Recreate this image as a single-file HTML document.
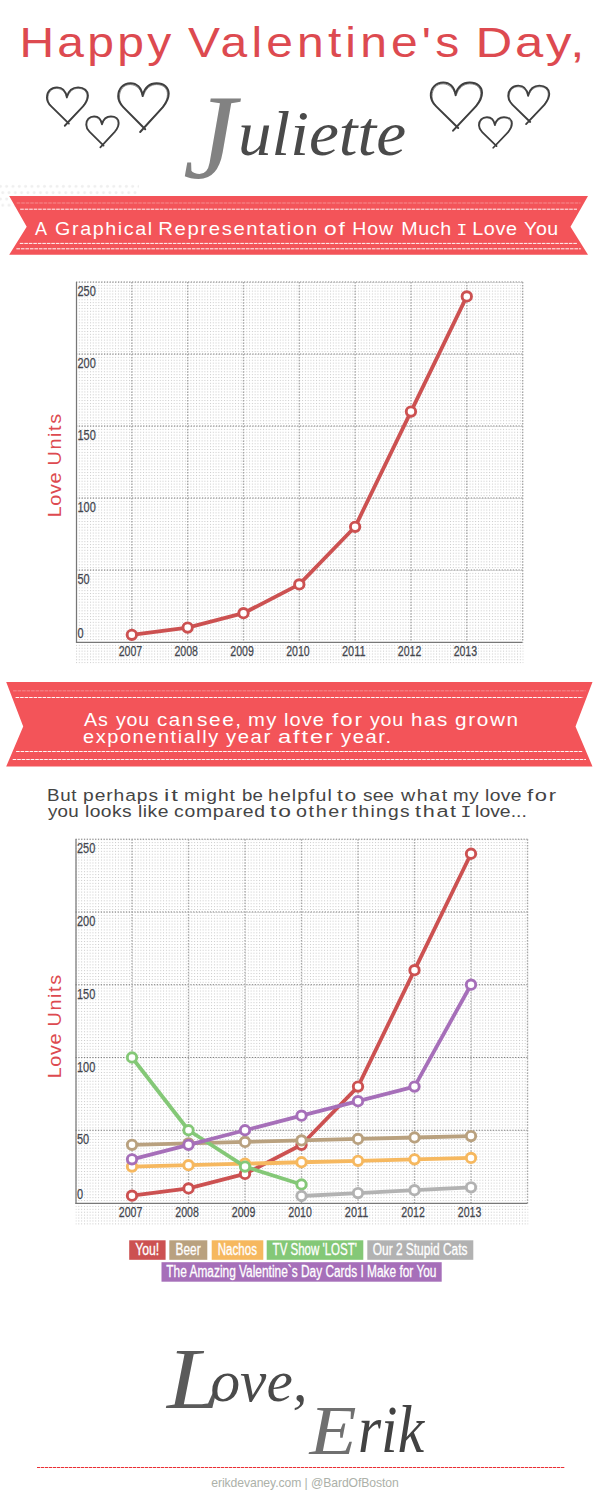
<!DOCTYPE html>
<html lang="en"><head><meta charset="utf-8"><title>Happy Valentine's Day, Juliette</title>
<style>html,body{margin:0;padding:0;background:#fff}svg{display:block}</style></head>
<body>
<svg width="600" height="1506" viewBox="0 0 600 1506">
<rect width="600" height="1506" fill="#fff"/>
<text transform="scale(1.1,1)" y="56.7" font-family="'Liberation Sans', sans-serif" font-size="42" fill="#dd4a50"><tspan x="17.64" letter-spacing="2.90" textLength="141.09" lengthAdjust="spacingAndGlyphs">Happy</tspan> <tspan x="170.91" letter-spacing="3.64" textLength="250.27" lengthAdjust="spacingAndGlyphs">Valentine's</tspan> <tspan x="432.27" letter-spacing="2.26" textLength="101.55" lengthAdjust="spacingAndGlyphs">Day,</tspan></text>
<g fill="none" stroke="#3f3f3f" stroke-linecap="round" stroke-linejoin="round"><path d="M66.83,97.47 C65.81,90.53 61.70,87.33 56.99,87.33 C51.04,87.33 46.93,91.60 46.93,97.65 C46.93,101.56 48.57,103.69 51.04,106.18 L68.89,123.61 M66.83,96.76 C68.68,90.18 73.20,87.33 78.12,87.33 C84.28,87.33 87.97,90.89 87.97,95.51 C87.97,100.13 85.92,102.98 83.25,106.18 L64.78,125.74" stroke-width="1.86"/><path d="M66.22,96.22 C64.99,91.60 61.29,88.58 56.78,88.40 C51.45,88.40 47.85,92.31 47.96,98.36 C47.96,101.56 49.39,104.05 51.86,106.89 L67.86,122.54 M67.45,97.29 C69.09,91.24 73.61,88.40 78.12,88.40 C83.86,88.40 87.05,91.60 86.94,96.22 C86.94,100.13 85.10,102.98 82.22,106.89 L67.45,122.36" stroke-width="0.93" stroke-opacity="0.6"/></g>
<g fill="none" stroke="#3f3f3f" stroke-linecap="round" stroke-linejoin="round"><path d="M101.96,124.48 C101.15,118.86 97.89,116.27 94.15,116.27 C89.43,116.27 86.17,119.73 86.17,124.63 C86.17,127.79 87.47,129.52 89.43,131.54 L103.59,145.66 M101.96,123.91 C103.43,118.57 107.01,116.27 110.92,116.27 C115.80,116.27 118.73,119.15 118.73,122.90 C118.73,126.64 117.10,128.95 114.99,131.54 L100.33,147.39" stroke-width="1.74"/><path d="M101.47,123.47 C100.50,119.73 97.57,117.28 93.98,117.13 C89.75,117.13 86.90,120.30 86.98,125.20 C86.98,127.79 88.12,129.81 90.08,132.12 L102.78,144.79 M102.45,124.34 C103.75,119.44 107.33,117.13 110.92,117.13 C115.47,117.13 118.00,119.73 117.92,123.47 C117.92,126.64 116.45,128.95 114.17,132.12 L102.45,144.65" stroke-width="0.87" stroke-opacity="0.6"/></g>
<g fill="none" stroke="#3f3f3f" stroke-linecap="round" stroke-linejoin="round"><path d="M142.69,96.08 C141.43,87.27 136.38,83.20 130.57,83.20 C123.25,83.20 118.20,88.62 118.20,96.31 C118.20,101.28 120.22,103.99 123.25,107.16 L145.22,129.30 M142.69,95.18 C144.96,86.82 150.52,83.20 156.58,83.20 C164.15,83.20 168.70,87.72 168.70,93.60 C168.70,99.47 166.17,103.09 162.89,107.16 L140.17,132.02" stroke-width="2.00"/><path d="M141.94,94.50 C140.42,88.62 135.88,84.78 130.32,84.56 C123.75,84.56 119.34,89.53 119.46,97.21 C119.46,101.28 121.23,104.44 124.26,108.06 L143.95,127.95 M143.45,95.86 C145.47,88.17 151.02,84.56 156.58,84.56 C163.65,84.56 167.56,88.62 167.44,94.50 C167.44,99.47 165.16,103.09 161.63,108.06 L143.45,127.72" stroke-width="1.00" stroke-opacity="0.6"/></g>
<g fill="none" stroke="#3f3f3f" stroke-linecap="round" stroke-linejoin="round"><path d="M455.63,95.21 C454.35,86.52 449.23,82.50 443.35,82.50 C435.92,82.50 430.81,87.86 430.81,95.44 C430.81,100.34 432.85,103.02 435.92,106.14 L458.19,127.98 M455.63,94.32 C457.94,86.07 463.57,82.50 469.71,82.50 C477.39,82.50 482.00,86.96 482.00,92.76 C482.00,98.56 479.44,102.12 476.11,106.14 L453.07,130.66" stroke-width="2.01"/><path d="M454.86,93.65 C453.33,87.86 448.72,84.07 443.09,83.84 C436.44,83.84 431.96,88.75 432.08,96.33 C432.08,100.34 433.88,103.46 436.95,107.03 L456.91,126.65 M456.40,94.99 C458.45,87.41 464.08,83.84 469.71,83.84 C476.88,83.84 480.84,87.86 480.72,93.65 C480.72,98.56 478.41,102.12 474.83,107.03 L456.40,126.42" stroke-width="1.00" stroke-opacity="0.6"/></g>
<g fill="none" stroke="#3f3f3f" stroke-linecap="round" stroke-linejoin="round"><path d="M494.90,125.17 C494.08,119.63 490.77,117.07 486.97,117.07 C482.18,117.07 478.87,120.48 478.87,125.31 C478.87,128.43 480.20,130.14 482.18,132.13 L496.56,146.05 M494.90,124.60 C496.39,119.35 500.03,117.07 503.99,117.07 C508.95,117.07 511.93,119.91 511.93,123.61 C511.93,127.30 510.27,129.57 508.13,132.13 L493.25,147.75" stroke-width="1.75"/><path d="M494.41,124.17 C493.42,120.48 490.44,118.07 486.81,117.93 C482.51,117.93 479.62,121.05 479.70,125.88 C479.70,128.43 480.86,130.42 482.84,132.70 L495.73,145.19 M495.40,125.03 C496.72,120.20 500.36,117.93 503.99,117.93 C508.62,117.93 511.18,120.48 511.10,124.17 C511.10,127.30 509.61,129.57 507.30,132.70 L495.40,145.05" stroke-width="0.87" stroke-opacity="0.6"/></g>
<g fill="none" stroke="#3f3f3f" stroke-linecap="round" stroke-linejoin="round"><path d="M528.13,95.82 C527.11,88.88 523.00,85.68 518.29,85.68 C512.34,85.68 508.23,89.95 508.23,96.00 C508.23,99.91 509.87,102.04 512.34,104.53 L530.19,121.96 M528.13,95.11 C529.98,88.53 534.50,85.68 539.42,85.68 C545.58,85.68 549.27,89.24 549.27,93.86 C549.27,98.48 547.22,101.33 544.55,104.53 L526.08,124.09" stroke-width="1.86"/><path d="M527.52,94.57 C526.29,89.95 522.59,86.93 518.08,86.75 C512.75,86.75 509.15,90.66 509.26,96.71 C509.26,99.91 510.69,102.40 513.16,105.24 L529.16,120.89 M528.75,95.64 C530.39,89.59 534.91,86.75 539.42,86.75 C545.16,86.75 548.35,89.95 548.24,94.57 C548.24,98.48 546.40,101.33 543.52,105.24 L528.75,120.71" stroke-width="0.93" stroke-opacity="0.6"/></g>
<text font-family="'Liberation Serif', serif" font-style="italic" fill="#444444"><tspan x="183" y="178" font-size="120" fill="#828282">J</tspan><tspan x="238" y="155" font-size="63" textLength="168" lengthAdjust="spacingAndGlyphs" fill="#4a4a4a">uliette</tspan></text>
<pattern id="fd" x="0" y="183.25" width="6.3" height="12.6" patternUnits="userSpaceOnUse"><circle cx="0.4" cy="3.15" r="1.45" fill="#efefef"/><circle cx="6.7" cy="3.15" r="1.45" fill="#efefef"/><circle cx="2.7" cy="9.45" r="1.45" fill="#efefef"/></pattern>
<rect x="0" y="183.25" width="139" height="25.2" fill="url(#fd)"/>
<polygon points="9.2,196 588,196 570.5,226.7 588,254.7 9.2,254.7 26.7,226.7" fill="#f35459"/><line x1="16.7" y1="203" x2="580.5" y2="203" stroke="#fff" stroke-opacity="0.22" stroke-width="1.4" stroke-dasharray="3.6 0.9"/><line x1="20.2" y1="209.2" x2="577.0" y2="209.2" stroke="#fff" stroke-opacity="0.95" stroke-width="1" stroke-dasharray="3.6 0.9"/><line x1="19.8" y1="243.4" x2="577.4" y2="243.4" stroke="#fff" stroke-opacity="0.95" stroke-width="1" stroke-dasharray="3.6 0.9"/><line x1="16.4" y1="248.8" x2="580.8" y2="248.8" stroke="#fff" stroke-opacity="0.95" stroke-width="1" stroke-dasharray="3.6 0.9"/>
<text transform="scale(1.05,1)" y="235" font-family="'Liberation Sans', sans-serif" font-size="18" fill="#ffffff"><tspan x="33.33" letter-spacing="0.85" textLength="12.29" lengthAdjust="spacingAndGlyphs">A</tspan> <tspan x="52.48" letter-spacing="1.43" textLength="93.90" lengthAdjust="spacingAndGlyphs">Graphical</tspan> <tspan x="150.67" letter-spacing="1.43" textLength="152.86" lengthAdjust="spacingAndGlyphs">Representation</tspan> <tspan x="308.67" letter-spacing="1.43" textLength="21.62" lengthAdjust="spacingAndGlyphs">of</tspan> <tspan x="335.43" letter-spacing="0.85" textLength="39.71" lengthAdjust="spacingAndGlyphs">How</tspan> <tspan x="382.10" letter-spacing="0.54" textLength="48.19" lengthAdjust="spacingAndGlyphs">Much</tspan> <tspan x="434.87" font-family="'Liberation Mono', monospace" font-size="17.10">I</tspan> <tspan x="449.71" letter-spacing="0.60" textLength="43.43" lengthAdjust="spacingAndGlyphs">Love</tspan> <tspan x="499.14" letter-spacing="0.51" textLength="33.05" lengthAdjust="spacingAndGlyphs">You</tspan></text>
<polygon points="6.2,682 592.5,682 575.5,726.5 592.5,766.5 6.2,766.5 23.2,726.5" fill="#f35459"/><line x1="13.1" y1="690.8" x2="585.6" y2="690.8" stroke="#fff" stroke-opacity="0.22" stroke-width="1.4" stroke-dasharray="3.6 0.9"/><line x1="15.6" y1="697.5" x2="583.1" y2="697.5" stroke="#fff" stroke-opacity="0.95" stroke-width="1" stroke-dasharray="3.6 0.9"/><line x1="16.1" y1="751.5" x2="582.6" y2="751.5" stroke="#fff" stroke-opacity="0.95" stroke-width="1" stroke-dasharray="3.6 0.9"/><line x1="12.7" y1="759.5" x2="586.0" y2="759.5" stroke="#fff" stroke-opacity="0.95" stroke-width="1" stroke-dasharray="3.6 0.9"/>
<text transform="scale(1.05,1)" y="726" font-family="'Liberation Sans', sans-serif" font-size="18.5" fill="#ffffff"><tspan x="80.00" letter-spacing="0.87" textLength="23.62" lengthAdjust="spacingAndGlyphs">As</tspan> <tspan x="110.48" letter-spacing="0.69" textLength="32.19" lengthAdjust="spacingAndGlyphs">you</tspan> <tspan x="149.62" letter-spacing="1.33" textLength="35.81" lengthAdjust="spacingAndGlyphs">can</tspan> <tspan x="187.71" letter-spacing="1.38" textLength="43.33" lengthAdjust="spacingAndGlyphs">see,</tspan> <tspan x="236.29" letter-spacing="1.24" textLength="28.29" lengthAdjust="spacingAndGlyphs">my</tspan> <tspan x="270.57" letter-spacing="0.92" textLength="38.76" lengthAdjust="spacingAndGlyphs">love</tspan> <tspan x="316.19" letter-spacing="1.43" textLength="30.29" lengthAdjust="spacingAndGlyphs">for</tspan> <tspan x="352.38" letter-spacing="0.69" textLength="32.19" lengthAdjust="spacingAndGlyphs">you</tspan> <tspan x="391.52" letter-spacing="1.33" textLength="35.81" lengthAdjust="spacingAndGlyphs">has</tspan> <tspan x="433.43" letter-spacing="1.43" textLength="61.52" lengthAdjust="spacingAndGlyphs">grown</tspan></text>
<text transform="scale(1.05,1)" y="743.5" font-family="'Liberation Sans', sans-serif" font-size="18.5" fill="#ffffff"><tspan x="79.14" letter-spacing="1.43" textLength="130.19" lengthAdjust="spacingAndGlyphs">exponentially</tspan> <tspan x="215.24" letter-spacing="1.43" textLength="43.62" lengthAdjust="spacingAndGlyphs">year</tspan> <tspan x="264.86" letter-spacing="1.43" textLength="53.90" lengthAdjust="spacingAndGlyphs">after</tspan> <tspan x="324.76" letter-spacing="1.41" textLength="49.14" lengthAdjust="spacingAndGlyphs">year.</tspan></text>
<text transform="scale(1.16,1)" y="801" font-family="'Liberation Sans', sans-serif" font-size="16.5" fill="#444444"><tspan x="40.60" letter-spacing="0.51" textLength="25.78" lengthAdjust="spacingAndGlyphs">But</tspan> <tspan x="71.64" letter-spacing="0.78" textLength="65.34" lengthAdjust="spacingAndGlyphs">perhaps</tspan> <tspan x="141.47" letter-spacing="1.29" textLength="13.53" lengthAdjust="spacingAndGlyphs">it</tspan> <tspan x="158.71" letter-spacing="0.81" textLength="44.66" lengthAdjust="spacingAndGlyphs">might</tspan> <tspan x="208.71" textLength="17.93" lengthAdjust="spacingAndGlyphs">be</tspan> <tspan x="231.12" letter-spacing="0.87" textLength="55.78" lengthAdjust="spacingAndGlyphs">helpful</tspan> <tspan x="290.52" letter-spacing="1.29" textLength="17.93" lengthAdjust="spacingAndGlyphs">to</tspan> <tspan x="313.02" textLength="26.55" lengthAdjust="spacingAndGlyphs">see</tspan> <tspan x="345.69" letter-spacing="1.29" textLength="41.21" lengthAdjust="spacingAndGlyphs">what</tspan> <tspan x="390.60" letter-spacing="0.43" textLength="22.33" lengthAdjust="spacingAndGlyphs">my</tspan> <tspan x="418.19" letter-spacing="0.30" textLength="31.72" lengthAdjust="spacingAndGlyphs">love</tspan> <tspan x="454.31" letter-spacing="1.29" textLength="26.55" lengthAdjust="spacingAndGlyphs">for</tspan></text>
<text transform="scale(1.16,1)" y="817" font-family="'Liberation Sans', sans-serif" font-size="16.5" fill="#444444"><tspan x="41.38" letter-spacing="0.18" textLength="26.64" lengthAdjust="spacingAndGlyphs">you</tspan> <tspan x="73.36" letter-spacing="0.31" textLength="40.34" lengthAdjust="spacingAndGlyphs">looks</tspan> <tspan x="119.05" letter-spacing="0.38" textLength="26.55" lengthAdjust="spacingAndGlyphs">like</tspan> <tspan x="150.09" letter-spacing="0.58" textLength="79.05" lengthAdjust="spacingAndGlyphs">compared</tspan> <tspan x="232.76" letter-spacing="1.29" textLength="19.57" lengthAdjust="spacingAndGlyphs">to</tspan> <tspan x="255.26" letter-spacing="1.29" textLength="45.43" lengthAdjust="spacingAndGlyphs">other</tspan> <tspan x="303.45" letter-spacing="1.07" textLength="50.69" lengthAdjust="spacingAndGlyphs">things</tspan> <tspan x="357.76" letter-spacing="1.29" textLength="36.90" lengthAdjust="spacingAndGlyphs">that</tspan> <tspan x="397.02" font-family="'Liberation Mono', monospace" font-size="15.67">I</tspan> <tspan x="409.57" textLength="44.57" lengthAdjust="spacingAndGlyphs">love...</tspan></text>
<pattern id="dots1" x="76" y="282" width="2.7913" height="2.8800" patternUnits="userSpaceOnUse"><rect x="0" y="0" width="1" height="1" fill="#c9c9c9"/></pattern><rect x="76" y="282" width="447.60" height="381.50" fill="url(#dots1)"/><line x1="76" y1="282.00" x2="522.60" y2="282.00" stroke="#7e7e7e" stroke-width="1" stroke-dasharray="1.3 1.5"/><line x1="76" y1="354.00" x2="522.60" y2="354.00" stroke="#7e7e7e" stroke-width="1" stroke-dasharray="1.3 1.5"/><line x1="76" y1="426.00" x2="522.60" y2="426.00" stroke="#7e7e7e" stroke-width="1" stroke-dasharray="1.3 1.5"/><line x1="76" y1="498.00" x2="522.60" y2="498.00" stroke="#7e7e7e" stroke-width="1" stroke-dasharray="1.3 1.5"/><line x1="76" y1="570.00" x2="522.60" y2="570.00" stroke="#7e7e7e" stroke-width="1" stroke-dasharray="1.3 1.5"/><line x1="131.82" y1="282" x2="131.82" y2="642.00" stroke="#a6a6a6" stroke-width="1.3" stroke-dasharray="1.5 1.38"/><line x1="187.65" y1="282" x2="187.65" y2="642.00" stroke="#a6a6a6" stroke-width="1.3" stroke-dasharray="1.5 1.38"/><line x1="243.48" y1="282" x2="243.48" y2="642.00" stroke="#a6a6a6" stroke-width="1.3" stroke-dasharray="1.5 1.38"/><line x1="299.30" y1="282" x2="299.30" y2="642.00" stroke="#a6a6a6" stroke-width="1.3" stroke-dasharray="1.5 1.38"/><line x1="355.12" y1="282" x2="355.12" y2="642.00" stroke="#a6a6a6" stroke-width="1.3" stroke-dasharray="1.5 1.38"/><line x1="410.95" y1="282" x2="410.95" y2="642.00" stroke="#a6a6a6" stroke-width="1.3" stroke-dasharray="1.5 1.38"/><line x1="466.78" y1="282" x2="466.78" y2="642.00" stroke="#a6a6a6" stroke-width="1.3" stroke-dasharray="1.5 1.38"/><line x1="522.60" y1="282" x2="522.60" y2="642.00" stroke="#a6a6a6" stroke-width="1.3" stroke-dasharray="1.5 1.38"/><line x1="76.5" y1="282" x2="76.5" y2="643.00" stroke="#777777" stroke-width="1.25"/><line x1="76" y1="642.30" x2="522.60" y2="642.30" stroke="#777777" stroke-width="1.25"/><text x="77.50" y="296.20" font-family="'Liberation Sans', sans-serif" font-size="14" text-anchor="start" font-weight="normal" font-style="normal" fill="#43464e" textLength="18.30" lengthAdjust="spacingAndGlyphs" stroke="#43464e" stroke-width="0.25">250</text><text x="77.50" y="368.20" font-family="'Liberation Sans', sans-serif" font-size="14" text-anchor="start" font-weight="normal" font-style="normal" fill="#43464e" textLength="18.30" lengthAdjust="spacingAndGlyphs" stroke="#43464e" stroke-width="0.25">200</text><text x="77.50" y="440.20" font-family="'Liberation Sans', sans-serif" font-size="14" text-anchor="start" font-weight="normal" font-style="normal" fill="#43464e" textLength="18.30" lengthAdjust="spacingAndGlyphs" stroke="#43464e" stroke-width="0.25">150</text><text x="77.50" y="512.20" font-family="'Liberation Sans', sans-serif" font-size="14" text-anchor="start" font-weight="normal" font-style="normal" fill="#43464e" textLength="18.30" lengthAdjust="spacingAndGlyphs" stroke="#43464e" stroke-width="0.25">100</text><text x="77.50" y="584.20" font-family="'Liberation Sans', sans-serif" font-size="14" text-anchor="start" font-weight="normal" font-style="normal" fill="#43464e" textLength="12.20" lengthAdjust="spacingAndGlyphs" stroke="#43464e" stroke-width="0.25">50</text><text x="77.50" y="637.50" font-family="'Liberation Sans', sans-serif" font-size="14" text-anchor="start" font-weight="normal" font-style="normal" fill="#43464e" textLength="6.10" lengthAdjust="spacingAndGlyphs" stroke="#43464e" stroke-width="0.25">0</text><text x="130.42" y="656.20" font-family="'Liberation Sans', sans-serif" font-size="14" text-anchor="middle" font-weight="normal" font-style="normal" fill="#43464e" textLength="23.50" lengthAdjust="spacingAndGlyphs" stroke="#43464e" stroke-width="0.25">2007</text><text x="186.25" y="656.20" font-family="'Liberation Sans', sans-serif" font-size="14" text-anchor="middle" font-weight="normal" font-style="normal" fill="#43464e" textLength="23.50" lengthAdjust="spacingAndGlyphs" stroke="#43464e" stroke-width="0.25">2008</text><text x="242.08" y="656.20" font-family="'Liberation Sans', sans-serif" font-size="14" text-anchor="middle" font-weight="normal" font-style="normal" fill="#43464e" textLength="23.50" lengthAdjust="spacingAndGlyphs" stroke="#43464e" stroke-width="0.25">2009</text><text x="297.90" y="656.20" font-family="'Liberation Sans', sans-serif" font-size="14" text-anchor="middle" font-weight="normal" font-style="normal" fill="#43464e" textLength="23.50" lengthAdjust="spacingAndGlyphs" stroke="#43464e" stroke-width="0.25">2010</text><text x="353.73" y="656.20" font-family="'Liberation Sans', sans-serif" font-size="14" text-anchor="middle" font-weight="normal" font-style="normal" fill="#43464e" textLength="23.50" lengthAdjust="spacingAndGlyphs" stroke="#43464e" stroke-width="0.25">2011</text><text x="409.55" y="656.20" font-family="'Liberation Sans', sans-serif" font-size="14" text-anchor="middle" font-weight="normal" font-style="normal" fill="#43464e" textLength="23.50" lengthAdjust="spacingAndGlyphs" stroke="#43464e" stroke-width="0.25">2012</text><text x="465.38" y="656.20" font-family="'Liberation Sans', sans-serif" font-size="14" text-anchor="middle" font-weight="normal" font-style="normal" fill="#43464e" textLength="23.50" lengthAdjust="spacingAndGlyphs" stroke="#43464e" stroke-width="0.25">2013</text><polyline points="131.82,634.80 187.65,627.60 243.48,613.20 299.30,584.40 355.12,526.80 410.95,411.60 466.78,296.40" fill="none" stroke="#cc5151" stroke-width="3.8" stroke-linejoin="round" stroke-linecap="round"/><circle cx="131.82" cy="634.80" r="4.7" fill="#fff" stroke="#cc5151" stroke-width="2.9"/><circle cx="187.65" cy="627.60" r="4.7" fill="#fff" stroke="#cc5151" stroke-width="2.9"/><circle cx="243.48" cy="613.20" r="4.7" fill="#fff" stroke="#cc5151" stroke-width="2.9"/><circle cx="299.30" cy="584.40" r="4.7" fill="#fff" stroke="#cc5151" stroke-width="2.9"/><circle cx="355.12" cy="526.80" r="4.7" fill="#fff" stroke="#cc5151" stroke-width="2.9"/><circle cx="410.95" cy="411.60" r="4.7" fill="#fff" stroke="#cc5151" stroke-width="2.9"/><circle cx="466.78" cy="296.40" r="4.7" fill="#fff" stroke="#cc5151" stroke-width="2.9"/>
<text transform="translate(60.5,516) rotate(-90) scale(1.1,1)" font-family="'Liberation Sans', sans-serif" font-size="18" fill="#dd4a50"><tspan x="-1.09" textLength="40.55" lengthAdjust="spacing">Love</tspan> <tspan x="46.00" textLength="46.82" lengthAdjust="spacing">Units</tspan></text>
<pattern id="dots2" x="75.5" y="839.2" width="2.8250" height="2.9104" patternUnits="userSpaceOnUse"><rect x="0" y="0" width="1" height="1" fill="#c9c9c9"/></pattern><rect x="75.5" y="839.2" width="453.00" height="385.80" fill="url(#dots2)"/><line x1="75.5" y1="839.20" x2="527.50" y2="839.20" stroke="#7e7e7e" stroke-width="1" stroke-dasharray="1.3 1.5"/><line x1="75.5" y1="911.96" x2="527.50" y2="911.96" stroke="#7e7e7e" stroke-width="1" stroke-dasharray="1.3 1.5"/><line x1="75.5" y1="984.72" x2="527.50" y2="984.72" stroke="#7e7e7e" stroke-width="1" stroke-dasharray="1.3 1.5"/><line x1="75.5" y1="1057.48" x2="527.50" y2="1057.48" stroke="#7e7e7e" stroke-width="1" stroke-dasharray="1.3 1.5"/><line x1="75.5" y1="1130.24" x2="527.50" y2="1130.24" stroke="#7e7e7e" stroke-width="1" stroke-dasharray="1.3 1.5"/><line x1="132.00" y1="839.2" x2="132.00" y2="1203.00" stroke="#a6a6a6" stroke-width="1.3" stroke-dasharray="1.5 1.38"/><line x1="188.50" y1="839.2" x2="188.50" y2="1203.00" stroke="#a6a6a6" stroke-width="1.3" stroke-dasharray="1.5 1.38"/><line x1="245.00" y1="839.2" x2="245.00" y2="1203.00" stroke="#a6a6a6" stroke-width="1.3" stroke-dasharray="1.5 1.38"/><line x1="301.50" y1="839.2" x2="301.50" y2="1203.00" stroke="#a6a6a6" stroke-width="1.3" stroke-dasharray="1.5 1.38"/><line x1="358.00" y1="839.2" x2="358.00" y2="1203.00" stroke="#a6a6a6" stroke-width="1.3" stroke-dasharray="1.5 1.38"/><line x1="414.50" y1="839.2" x2="414.50" y2="1203.00" stroke="#a6a6a6" stroke-width="1.3" stroke-dasharray="1.5 1.38"/><line x1="471.00" y1="839.2" x2="471.00" y2="1203.00" stroke="#a6a6a6" stroke-width="1.3" stroke-dasharray="1.5 1.38"/><line x1="527.50" y1="839.2" x2="527.50" y2="1203.00" stroke="#a6a6a6" stroke-width="1.3" stroke-dasharray="1.5 1.38"/><line x1="76.0" y1="839.2" x2="76.0" y2="1204.00" stroke="#777777" stroke-width="1.25"/><line x1="75.5" y1="1203.30" x2="527.50" y2="1203.30" stroke="#777777" stroke-width="1.25"/><text x="77.00" y="853.40" font-family="'Liberation Sans', sans-serif" font-size="14" text-anchor="start" font-weight="normal" font-style="normal" fill="#43464e" textLength="18.30" lengthAdjust="spacingAndGlyphs" stroke="#43464e" stroke-width="0.25">250</text><text x="77.00" y="926.16" font-family="'Liberation Sans', sans-serif" font-size="14" text-anchor="start" font-weight="normal" font-style="normal" fill="#43464e" textLength="18.30" lengthAdjust="spacingAndGlyphs" stroke="#43464e" stroke-width="0.25">200</text><text x="77.00" y="998.92" font-family="'Liberation Sans', sans-serif" font-size="14" text-anchor="start" font-weight="normal" font-style="normal" fill="#43464e" textLength="18.30" lengthAdjust="spacingAndGlyphs" stroke="#43464e" stroke-width="0.25">150</text><text x="77.00" y="1071.68" font-family="'Liberation Sans', sans-serif" font-size="14" text-anchor="start" font-weight="normal" font-style="normal" fill="#43464e" textLength="18.30" lengthAdjust="spacingAndGlyphs" stroke="#43464e" stroke-width="0.25">100</text><text x="77.00" y="1144.44" font-family="'Liberation Sans', sans-serif" font-size="14" text-anchor="start" font-weight="normal" font-style="normal" fill="#43464e" textLength="12.20" lengthAdjust="spacingAndGlyphs" stroke="#43464e" stroke-width="0.25">50</text><text x="77.00" y="1198.50" font-family="'Liberation Sans', sans-serif" font-size="14" text-anchor="start" font-weight="normal" font-style="normal" fill="#43464e" textLength="6.10" lengthAdjust="spacingAndGlyphs" stroke="#43464e" stroke-width="0.25">0</text><text x="130.60" y="1217.20" font-family="'Liberation Sans', sans-serif" font-size="14" text-anchor="middle" font-weight="normal" font-style="normal" fill="#43464e" textLength="23.50" lengthAdjust="spacingAndGlyphs" stroke="#43464e" stroke-width="0.25">2007</text><text x="187.10" y="1217.20" font-family="'Liberation Sans', sans-serif" font-size="14" text-anchor="middle" font-weight="normal" font-style="normal" fill="#43464e" textLength="23.50" lengthAdjust="spacingAndGlyphs" stroke="#43464e" stroke-width="0.25">2008</text><text x="243.60" y="1217.20" font-family="'Liberation Sans', sans-serif" font-size="14" text-anchor="middle" font-weight="normal" font-style="normal" fill="#43464e" textLength="23.50" lengthAdjust="spacingAndGlyphs" stroke="#43464e" stroke-width="0.25">2009</text><text x="300.10" y="1217.20" font-family="'Liberation Sans', sans-serif" font-size="14" text-anchor="middle" font-weight="normal" font-style="normal" fill="#43464e" textLength="23.50" lengthAdjust="spacingAndGlyphs" stroke="#43464e" stroke-width="0.25">2010</text><text x="356.60" y="1217.20" font-family="'Liberation Sans', sans-serif" font-size="14" text-anchor="middle" font-weight="normal" font-style="normal" fill="#43464e" textLength="23.50" lengthAdjust="spacingAndGlyphs" stroke="#43464e" stroke-width="0.25">2011</text><text x="413.10" y="1217.20" font-family="'Liberation Sans', sans-serif" font-size="14" text-anchor="middle" font-weight="normal" font-style="normal" fill="#43464e" textLength="23.50" lengthAdjust="spacingAndGlyphs" stroke="#43464e" stroke-width="0.25">2012</text><text x="469.60" y="1217.20" font-family="'Liberation Sans', sans-serif" font-size="14" text-anchor="middle" font-weight="normal" font-style="normal" fill="#43464e" textLength="23.50" lengthAdjust="spacingAndGlyphs" stroke="#43464e" stroke-width="0.25">2013</text><polyline points="132.00,1195.72 188.50,1188.45 245.00,1173.90 301.50,1144.79 358.00,1086.58 414.50,970.17 471.00,853.75" fill="none" stroke="#cc5151" stroke-width="3.8" stroke-linejoin="round" stroke-linecap="round"/><circle cx="132.00" cy="1195.72" r="4.7" fill="#fff" stroke="#cc5151" stroke-width="2.9"/><circle cx="188.50" cy="1188.45" r="4.7" fill="#fff" stroke="#cc5151" stroke-width="2.9"/><circle cx="245.00" cy="1173.90" r="4.7" fill="#fff" stroke="#cc5151" stroke-width="2.9"/><circle cx="301.50" cy="1144.79" r="4.7" fill="#fff" stroke="#cc5151" stroke-width="2.9"/><circle cx="358.00" cy="1086.58" r="4.7" fill="#fff" stroke="#cc5151" stroke-width="2.9"/><circle cx="414.50" cy="970.17" r="4.7" fill="#fff" stroke="#cc5151" stroke-width="2.9"/><circle cx="471.00" cy="853.75" r="4.7" fill="#fff" stroke="#cc5151" stroke-width="2.9"/><polyline points="132.00,1144.79 188.50,1143.34 245.00,1141.88 301.50,1140.43 358.00,1138.97 414.50,1137.52 471.00,1136.06" fill="none" stroke="#b9a17f" stroke-width="3.8" stroke-linejoin="round" stroke-linecap="round"/><circle cx="132.00" cy="1144.79" r="4.7" fill="#fff" stroke="#b9a17f" stroke-width="2.9"/><circle cx="188.50" cy="1143.34" r="4.7" fill="#fff" stroke="#b9a17f" stroke-width="2.9"/><circle cx="245.00" cy="1141.88" r="4.7" fill="#fff" stroke="#b9a17f" stroke-width="2.9"/><circle cx="301.50" cy="1140.43" r="4.7" fill="#fff" stroke="#b9a17f" stroke-width="2.9"/><circle cx="358.00" cy="1138.97" r="4.7" fill="#fff" stroke="#b9a17f" stroke-width="2.9"/><circle cx="414.50" cy="1137.52" r="4.7" fill="#fff" stroke="#b9a17f" stroke-width="2.9"/><circle cx="471.00" cy="1136.06" r="4.7" fill="#fff" stroke="#b9a17f" stroke-width="2.9"/><polyline points="132.00,1166.62 188.50,1165.16 245.00,1163.71 301.50,1162.25 358.00,1160.80 414.50,1159.34 471.00,1157.89" fill="none" stroke="#f6b85f" stroke-width="3.8" stroke-linejoin="round" stroke-linecap="round"/><circle cx="132.00" cy="1166.62" r="4.7" fill="#fff" stroke="#f6b85f" stroke-width="2.9"/><circle cx="188.50" cy="1165.16" r="4.7" fill="#fff" stroke="#f6b85f" stroke-width="2.9"/><circle cx="245.00" cy="1163.71" r="4.7" fill="#fff" stroke="#f6b85f" stroke-width="2.9"/><circle cx="301.50" cy="1162.25" r="4.7" fill="#fff" stroke="#f6b85f" stroke-width="2.9"/><circle cx="358.00" cy="1160.80" r="4.7" fill="#fff" stroke="#f6b85f" stroke-width="2.9"/><circle cx="414.50" cy="1159.34" r="4.7" fill="#fff" stroke="#f6b85f" stroke-width="2.9"/><circle cx="471.00" cy="1157.89" r="4.7" fill="#fff" stroke="#f6b85f" stroke-width="2.9"/><polyline points="132.00,1057.48 188.50,1130.24 245.00,1166.62 301.50,1184.52" fill="none" stroke="#84c877" stroke-width="3.8" stroke-linejoin="round" stroke-linecap="round"/><circle cx="132.00" cy="1057.48" r="4.7" fill="#fff" stroke="#84c877" stroke-width="2.9"/><circle cx="188.50" cy="1130.24" r="4.7" fill="#fff" stroke="#84c877" stroke-width="2.9"/><circle cx="245.00" cy="1166.62" r="4.7" fill="#fff" stroke="#84c877" stroke-width="2.9"/><circle cx="301.50" cy="1184.52" r="4.7" fill="#fff" stroke="#84c877" stroke-width="2.9"/><polyline points="301.50,1196.02 358.00,1193.10 414.50,1190.19 471.00,1187.28" fill="none" stroke="#b2b2b2" stroke-width="3.8" stroke-linejoin="round" stroke-linecap="round"/><circle cx="301.50" cy="1196.02" r="4.7" fill="#fff" stroke="#b2b2b2" stroke-width="2.9"/><circle cx="358.00" cy="1193.10" r="4.7" fill="#fff" stroke="#b2b2b2" stroke-width="2.9"/><circle cx="414.50" cy="1190.19" r="4.7" fill="#fff" stroke="#b2b2b2" stroke-width="2.9"/><circle cx="471.00" cy="1187.28" r="4.7" fill="#fff" stroke="#b2b2b2" stroke-width="2.9"/><polyline points="132.00,1159.34 188.50,1144.79 245.00,1130.24 301.50,1115.69 358.00,1101.14 414.50,1086.58 471.00,984.72" fill="none" stroke="#a66fb9" stroke-width="3.8" stroke-linejoin="round" stroke-linecap="round"/><circle cx="132.00" cy="1159.34" r="4.7" fill="#fff" stroke="#a66fb9" stroke-width="2.9"/><circle cx="188.50" cy="1144.79" r="4.7" fill="#fff" stroke="#a66fb9" stroke-width="2.9"/><circle cx="245.00" cy="1130.24" r="4.7" fill="#fff" stroke="#a66fb9" stroke-width="2.9"/><circle cx="301.50" cy="1115.69" r="4.7" fill="#fff" stroke="#a66fb9" stroke-width="2.9"/><circle cx="358.00" cy="1101.14" r="4.7" fill="#fff" stroke="#a66fb9" stroke-width="2.9"/><circle cx="414.50" cy="1086.58" r="4.7" fill="#fff" stroke="#a66fb9" stroke-width="2.9"/><circle cx="471.00" cy="984.72" r="4.7" fill="#fff" stroke="#a66fb9" stroke-width="2.9"/>
<text transform="translate(60.5,1077) rotate(-90) scale(1.1,1)" font-family="'Liberation Sans', sans-serif" font-size="18" fill="#dd4a50"><tspan x="-1.09" textLength="40.55" lengthAdjust="spacing">Love</tspan> <tspan x="46.00" textLength="46.82" lengthAdjust="spacing">Units</tspan></text>
<rect x="129.2" y="1240.3" width="36.4" height="19.5" fill="#cc5151"/><text x="147.20" y="1254.80" font-family="'Liberation Sans', sans-serif" font-size="15.6" text-anchor="middle" font-weight="normal" font-style="normal" fill="#fff" textLength="24.00" lengthAdjust="spacingAndGlyphs" stroke="#fff" stroke-width="0.3">You!</text>
<rect x="169.3" y="1240.3" width="38.0" height="19.5" fill="#b9a17f"/><text x="188.10" y="1254.80" font-family="'Liberation Sans', sans-serif" font-size="15.6" text-anchor="middle" font-weight="normal" font-style="normal" fill="#fff" textLength="25.00" lengthAdjust="spacingAndGlyphs" stroke="#fff" stroke-width="0.3">Beer</text>
<rect x="211.7" y="1240.3" width="51.6" height="19.5" fill="#f6b85f"/><text x="237.30" y="1254.80" font-family="'Liberation Sans', sans-serif" font-size="15.6" text-anchor="middle" font-weight="normal" font-style="normal" fill="#fff" textLength="39.30" lengthAdjust="spacingAndGlyphs" stroke="#fff" stroke-width="0.3">Nachos</text>
<rect x="266.7" y="1240.3" width="96.6" height="19.5" fill="#84c877"/><text x="314.80" y="1254.80" font-family="'Liberation Sans', sans-serif" font-size="15.6" text-anchor="middle" font-weight="normal" font-style="normal" fill="#fff" textLength="84.40" lengthAdjust="spacingAndGlyphs" stroke="#fff" stroke-width="0.3">TV Show 'LOST'</text>
<rect x="367.3" y="1240.3" width="106.0" height="19.5" fill="#b2b2b2"/><text x="420.10" y="1254.80" font-family="'Liberation Sans', sans-serif" font-size="15.6" text-anchor="middle" font-weight="normal" font-style="normal" fill="#fff" textLength="94.70" lengthAdjust="spacingAndGlyphs" stroke="#fff" stroke-width="0.3">Our 2 Stupid Cats</text>
<rect x="161.5" y="1262.2" width="280.2" height="19.5" fill="#a66fb9"/><text x="301.40" y="1276.70" font-family="'Liberation Sans', sans-serif" font-size="15.6" text-anchor="middle" font-weight="normal" font-style="normal" fill="#fff" textLength="270.10" lengthAdjust="spacingAndGlyphs" stroke="#fff" stroke-width="0.3">The Amazing Valentine`s Day Cards I Make for You</text>
<text font-family="'Liberation Serif', serif" font-style="italic" fill="#444444"><tspan x="167" y="1407.5" font-size="86" textLength="54" lengthAdjust="spacingAndGlyphs" fill="#5a5a5a">L</tspan><tspan x="210.5" y="1400.5" font-size="60" textLength="97" lengthAdjust="spacingAndGlyphs" fill="#4a4a4a">ove,</tspan></text>
<text font-family="'Liberation Serif', serif" font-style="italic" fill="#444444"><tspan x="309.5" y="1454" font-size="69" textLength="47" lengthAdjust="spacingAndGlyphs" fill="#707070">E</tspan><tspan x="358" y="1452" font-size="68.5" textLength="66" lengthAdjust="spacingAndGlyphs" fill="#424242">rik</tspan></text>
<line x1="37" y1="1467.5" x2="565" y2="1467.5" stroke="#ea3035" stroke-width="1.1" stroke-dasharray="3.3 0.7"/>
<text x="211.3" y="1487" font-family="'Liberation Sans', sans-serif" font-size="12.2" fill="#acb1a9" textLength="187.5" lengthAdjust="spacing">erikdevaney.com | @BardOfBoston</text>
</svg>
</body></html>
